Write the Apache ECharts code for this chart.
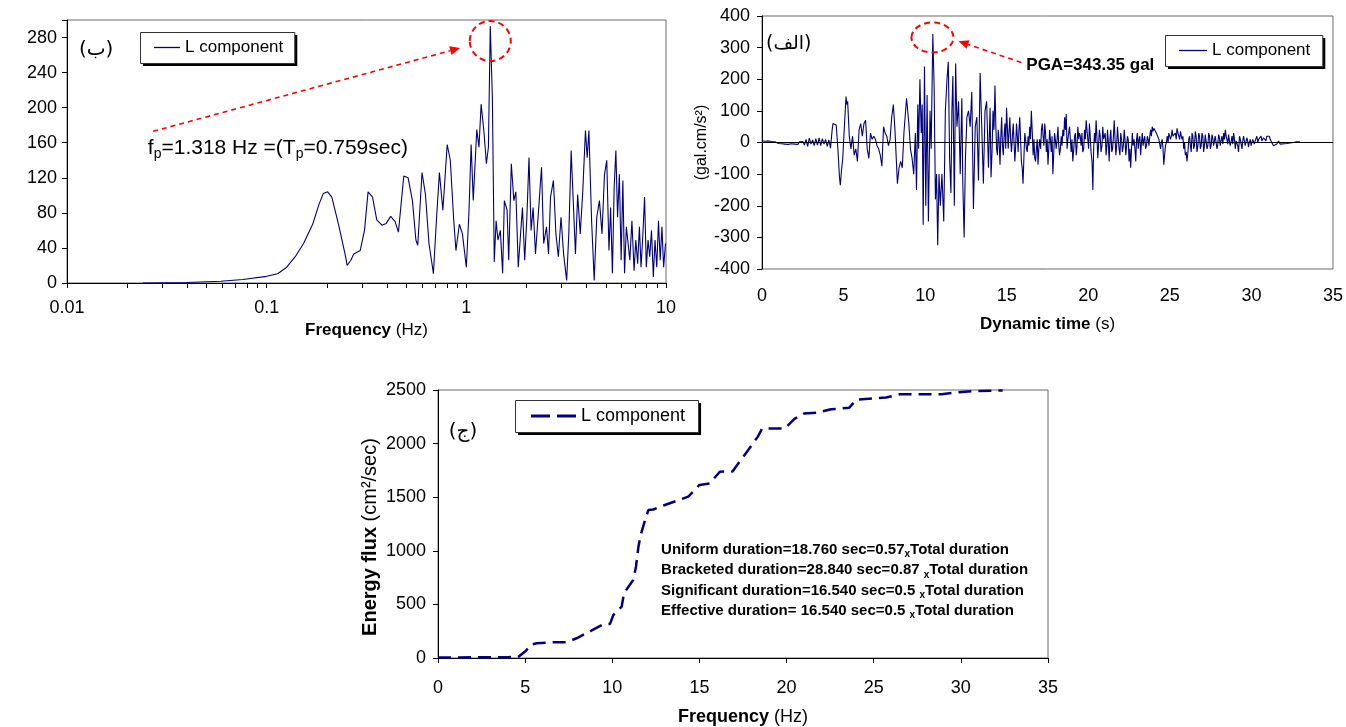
<!DOCTYPE html>
<html><head><meta charset="utf-8">
<script src="https://cdn.jsdelivr.net/npm/echarts@6/dist/echarts.min.js"></script>
<style>html,body{margin:0;padding:0;background:#fff}#c{width:1346px;height:727px}</style>
</head><body><div id="c"></div>
<script>
// ---------- DATA ----------
const spectrumPoints = [[0.024,0],[0.0396,0.5],[0.059,2],[0.076,4],[0.1,7.6],[0.1135,10.6],[0.126,18],[0.139,30],[0.153,45],[0.170,67],[0.183,90],[0.192,102],[0.202,104],[0.212,98],[0.229,67],[0.247,33],[0.253,20],[0.264,26],[0.273,33],[0.294,37],[0.309,60],[0.322,104],[0.339,98],[0.356,72],[0.378,66],[0.397,68],[0.418,76],[0.44,70],[0.457,58],[0.486,122],[0.511,120],[0.537,94],[0.559,49],[0.571,43],[0.600,126],[0.624,101],[0.650,45],[0.673,22],[0.684,10.6],[0.708,71],[0.733,126],[0.763,83],[0.802,158],[0.831,140],[0.865,71],[0.887,37],[0.923,67],[0.956,56],[1.0,18],[1.03,79],[1.057,158],[1.083,94],[1.128,175],[1.157,155],[1.186,204],[1.228,170],[1.26,136],[1.29,155],[1.318,293],[1.35,212],[1.38,24],[1.41,71],[1.44,49],[1.48,60],[1.52,11],[1.55,94],[1.60,83],[1.63,26],[1.68,136],[1.73,94],[1.77,104],[1.82,18],[1.86,49],[1.91,86],[1.96,26],[2.01,75],[2.06,143],[2.11,60],[2.16,86],[2.22,33],[2.30,83],[2.38,132],[2.44,45],[2.52,64],[2.58,33],[2.64,98],[2.73,117],[2.81,56],[2.89,30],[2.98,75],[3.07,33],[3.18,3],[3.26,56],[3.35,151],[3.43,94],[3.52,33],[3.61,101],[3.72,56],[3.83,105],[3.95,174],[4.03,143],[4.11,174],[4.24,71],[4.37,3],[4.50,75],[4.64,94],[4.78,56],[4.92,124],[5.05,140],[5.18,37],[5.28,86],[5.39,11],[5.50,109],[5.61,151],[5.72,75],[5.84,124],[5.96,26],[6.08,117],[6.20,11],[6.33,64],[6.46,45],[6.59,26],[6.75,71],[6.92,14],[7.06,49],[7.21,22],[7.36,64],[7.50,18],[7.66,56],[7.81,98],[7.97,18],[8.13,49],[8.29,30],[8.46,60],[8.64,7],[8.81,49],[8.99,18],[9.17,71],[9.35,26],[9.54,64],[9.73,18],[9.94,45]];

const accelerationPoints = [[0,5],[0.2,4],[0.4,5],[0.6,3],[0.8,2],[1.0,-3],[1.1,2],[1.2,-4],[1.3,0],[1.4,-5],[1.5,-2],[1.6,-6],[1.7,-1],[1.8,-4],[1.9,1],[2.0,-5],[2.1,0],[2.2,-6],[2.3,2],[2.4,-4],[2.5,3],[2.6,-8],[2.7,10],[2.8,-12],[2.9,14],[3.0,-5],[3.1,8],[3.2,-10],[3.3,12],[3.4,-8],[3.5,15],[3.6,-10],[3.7,12],[3.8,-5],[3.9,10],[4.0,-12],[4.1,8],[4.2,-18],
[4.3,40],[4.35,60],[4.45,58],[4.55,55],[4.65,-20],[4.75,-110],[4.8,-135],[4.87,-90],[4.95,-50],[5.05,50],[5.15,145],[5.2,120],[5.25,130],[5.35,20],[5.45,-20],[5.55,20],[5.65,-40],[5.75,-20],[5.85,-60],[5.95,40],[6.05,60],[6.15,20],[6.25,60],[6.35,70],[6.45,-20],[6.55,-50],[6.65,30],[6.75,10],[6.85,20],[6.95,10],[7.05,-10],[7.15,-20],[7.25,-40],[7.35,-75],[7.45,50],[7.55,30],[7.65,20],[7.75,-10],[7.85,10],[7.95,80],[8.05,120],[8.15,40],[8.3,-130],[8.4,-80],[8.5,-60],[8.6,-80],[8.7,30],[8.86,140],[9.0,60],[9.1,-20],[9.2,-50],[9.3,-100],[9.4,30],[9.47,-150],[9.55,120],[9.6,-20],[9.68,200],[9.76,30],[9.82,120],[9.88,-260],[9.96,240],[10.04,-200],[10.12,150],[10.2,-250],[10.3,100],[10.37,-20],[10.47,343.35],[10.55,180],[10.63,-180],[10.7,-100],[10.77,-325],[10.85,-100],[10.93,-200],[11.03,-100],[11.14,-250],[11.24,100],[11.34,200],[11.42,255],[11.5,-50],[11.58,-160],[11.64,100],[11.7,210],[11.79,-200],[11.87,250],[11.95,50],[12.05,130],[12.15,-100],[12.25,140],[12.31,-130],[12.39,-300],[12.47,-50],[12.56,80],[12.66,100],[12.76,50],[12.86,160],[12.96,-210],[13.07,50],[13.17,80],[13.27,-120],[13.37,220],[13.47,50],[13.57,-130],[13.67,100],[13.77,130],[13.88,-80],[13.98,110],[14.04,-110],[14.16,100],[14.28,180],[14.38,-20],[14.48,40],[14.59,-70],[14.69,80],[14.79,-40],[14.89,60],[14.99,110],[15.09,-20],[15.19,80],[15.29,-30],[15.4,60],[15.5,-60],[15.6,60],[15.7,-30],[15.8,80],[15.9,-60],[16.0,-130],[16.11,30],[16.21,-20],[16.31,20],[16.41,50],[16.51,100],[16.62,-40],[16.72,-50],[16.82,-20],[16.92,-70],[17.02,10],[17.13,40],[17.23,20],[17.33,60],[17.43,-30],[17.53,-70],[17.63,40],[17.73,-30],[17.83,-100],[17.93,30],[18.03,-20],[18.14,50],[18.24,-40],[18.34,20],[18.44,40],[18.55,80],[18.65,90],[18.75,10],[18.85,50],[18.95,-30],[19.05,-60],[19.16,20],[19.26,-40],[19.36,50],[19.46,30],[19.56,-10],[19.66,-30],[19.77,40],[19.87,70],[19.97,10],[20.07,60],[20.17,-30],[20.28,-150],[20.38,30],[20.48,70],[20.58,-50],[20.68,40],[20.78,-30],[20.89,50],[20.99,20],[21.09,-40],[21.18,40],[21.28,-60],[21.38,40],[21.49,-20],[21.59,70],[21.69,-40],[21.79,50],[21.89,-20],[21.99,30],[22.09,-30],[22.2,40],[22.3,-40],[22.4,20],[22.5,-60],[22.6,-80],[22.7,30],[22.81,10],[22.91,-60],[23.01,30],[23.11,10],[23.21,-40],[23.31,30],[23.41,10],[23.51,-20],[23.62,20],[23.72,-10],[23.82,40],[23.92,50],[24.02,45],[24.12,40],[24.22,30],[24.33,10],[24.43,-20],[24.53,10],[24.63,-70],[24.73,-10],[24.84,20],[24.94,30],[25.04,10],[25.14,40],[25.24,20],[25.34,30],[25.44,45],[25.55,20],[25.65,35],[25.75,10],[25.85,-20],[25.95,-40],[26.05,-60],[26.16,10],[26.26,-10],[26.36,30],[26.46,-20],[26.56,35],[26.66,-30],[26.77,30],[26.87,-20],[26.97,30],[27.07,-30],[27.17,25],[27.28,-20],[27.38,30],[27.48,-20],[27.58,25],[27.68,-10],[27.78,20],[27.89,-20],[27.99,25],[28.09,-10],[28.19,20],[28.3,30],[28.4,40],[28.5,10],[28.6,25],[28.7,-10],[28.81,20],[28.91,30],[29.01,-20],[29.11,10],[29.21,-30],[29.32,10],[29.42,-20],[29.52,20],[29.62,-10],[29.72,15],[29.82,-15],[29.93,10],[30.03,0],[30.13,15],[30.23,5],[30.33,20],[30.44,10],[30.54,15],[30.64,5],[30.74,15],[30.84,10],[30.94,20],[31.05,25],[31.15,10],[31.25,0],[31.35,-10],[31.46,-15],[31.56,-5],[31.66,5],[31.76,-5],[31.86,-2],[32.17,-3],[32.57,0],[32.77,2],[32.97,2]];

// smaller in-between wiggles read from the 14-31 s part of the record
const accelerationDetail = [[14.10,-30],[14.22,40],[14.33,60],[14.43,-40],[14.53,10],[14.64,20],[14.74,-10],[14.84,20],[14.94,-20],[15.04,50],[15.14,30],[15.24,10],[15.35,20],[15.45,0],[15.55,-10],[15.65,20],[15.75,40],[15.85,10],[15.95,-80],[16.06,-40],[16.16,10],[16.26,-30],[16.36,-10],[16.46,10],[16.57,30],[16.67,10],[16.77,-60],[16.87,10],[16.97,-20],[17.08,-20],[17.18,60],[17.28,-10],[17.38,30],[17.48,10],[17.58,-20],[17.68,10],[17.78,20],[17.88,-40],[17.98,10],[18.09,10],[18.19,-10],[18.29,-20],[18.39,-10],[18.5,20],[18.6,40],[18.7,-20],[18.8,30],[18.9,10],[19.0,10],[19.11,-20],[19.21,30],[19.31,-10],[19.41,10],[19.51,20],[19.61,30],[19.72,-20],[19.82,10],[19.92,40],[20.02,-20],[20.12,20],[20.23,-60],[20.33,-20],[20.43,0],[20.53,20],[20.63,-10],[20.73,20],[20.84,-10],[20.94,10],[21.04,30],[21.14,-10],[21.23,0],[21.33,10],[21.44,-30],[21.54,20],[21.64,10],[21.74,-10],[21.84,10],[21.94,-40],[22.04,10],[22.15,-10],[22.25,10],[22.35,-10],[22.45,10],[22.55,-20],[22.65,-20],[22.75,-10],[22.86,-20],[22.96,10],[23.06,-20],[23.16,20],[23.26,0],[23.36,-10],[23.46,20],[23.57,-10],[23.67,10],[23.77,20],[23.87,20],[23.97,35],[24.07,50],[24.17,30],[24.28,35],[24.38,-5],[24.48,0],[24.58,-20],[24.68,-40],[24.79,0],[24.89,0],[24.99,20],[25.09,20],[25.19,20],[25.29,20],[25.39,10],[25.5,30],[25.6,10],[25.7,20],[25.8,20],[25.9,0],[26.0,-30],[26.11,-30],[26.21,20],[26.31,-30],[26.41,20],[26.51,-10],[26.61,20],[26.72,-10],[26.82,20],[26.92,-10],[27.02,20],[27.12,-10],[27.23,20],[27.33,-10],[27.43,20],[27.53,-10],[27.63,15],[27.73,-5],[27.84,15],[27.94,-5],[28.04,15],[28.14,5],[28.25,-5],[28.35,10],[28.45,20],[28.55,-5],[28.65,5],[28.76,5],[28.86,-5],[28.96,10],[29.06,5],[29.16,-10],[29.27,20],[29.37,-5],[29.47,5],[29.57,5],[29.67,-5],[29.77,5],[29.87,0],[29.98,-10],[30.08,10],[30.18,-5],[30.28,10],[30.39,0],[30.49,5],[30.59,20],[30.69,5],[30.79,20],[30.89,5],[31.0,15],[31.1,20]];

const energyPoints = [[0,4],[1,5],[2,6],[3,7],[4,8],[4.6,10],[5.05,68],[5.28,121],[5.66,137],[6.4,146],[7.4,148],[7.95,184],[8.5,230],[8.8,255],[9.48,314],[9.87,318],[10.06,401],[10.54,479],[10.67,605],[11.2,728],[11.36,852],[11.5,1038],[11.63,1147],[11.88,1287],[12.07,1380],[12.35,1385],[13.02,1427],[13.7,1467],[14.36,1505],[15.0,1614],[15.6,1629],[16.17,1738],[16.9,1740],[17.3,1830],[17.8,1940],[18.35,2065],[18.6,2140],[19.9,2140],[20.45,2230],[21.0,2280],[21.8,2290],[22.55,2320],[23.6,2335],[24.0,2410],[24.9,2420],[25.7,2430],[26.5,2460],[28.9,2460],[29.9,2480],[30.7,2490],[32.4,2495]];

const logTickValues = [0.01,0.02,0.03,0.04,0.05,0.06,0.07,0.08,0.09,0.1,0.2,0.3,0.4,0.5,0.6,0.7,0.8,0.9,1,2,3,4,5,6,7,8,9,10];
const legendLabel = 'L component';
const infoLines = [
  ['Uniform duration=18.760 sec=0.57', 'Total duration'],
  ['Bracketed duration=28.840 sec=0.87 ', 'Total duration'],
  ['Significant duration=16.540 sec=0.5 ', 'Total duration'],
  ['Effective duration= 16.540 sec=0.5 ', 'Total duration']
];

// ---------- CHART ----------
const FONT = "'Liberation Sans', Arial, sans-serif";
const NAVY = '#000080';
const chart = echarts.init(document.getElementById('c'), null, {renderer: 'canvas'});
const mctx = document.createElement('canvas').getContext('2d');

const accelerationSeries = accelerationPoints.concat(accelerationDetail).sort((a, b) => a[0] - b[0]);

const txt = (size) => ({color: '#000', fontFamily: FONT, fontSize: size});
const gridBorder = {show: true, borderColor: '#6b6b6b', borderWidth: 1, backgroundColor: '#fff'};

// legend boxes: [series name, left, top, padding, icon, itemWidth, itemHeight, fontSize]
const legendSpecs = [
  ['spectrum', 140, 32, [7, 11, 7, 14], 'rect', 26, 1.3, 17],
  ['acceleration', 1165, 35, [7, 12, 7, 14], 'rect', 28, 1.3, 17],
  ['energy', 515, 400, [7, 13, 7, 16], 'path://M0,0H19V3H0Z M26,0H45V3H26Z', 45, 3, 18]
];
const legends = legendSpecs.map(s => ({
  data: [s[0]], left: s[1], top: s[2], padding: s[3], icon: s[4], itemWidth: s[5], itemHeight: s[6],
  textStyle: txt(s[7]), orient: 'horizontal', backgroundColor: 'transparent', borderWidth: 0,
  formatter: () => legendLabel, selectedMode: false, z: 6
}));

chart.setOption({
  animation: false,
  grid: [
    Object.assign({left: 67, top: 20, width: 599, height: 263}, gridBorder),
    Object.assign({left: 762, top: 16, width: 576, height: 253}, gridBorder),
    Object.assign({left: 438, top: 390, width: 610, height: 268}, gridBorder)
  ],
  legend: legends,
  xAxis: [
    {gridIndex: 0, type: 'log', logBase: 10, min: 0.01, max: 10,
     axisLine: {lineStyle: {color: '#000'}},
     axisTick: {show: true, inside: false, length: 5, lineStyle: {color: '#000'}, customValues: logTickValues},
     axisLabel: Object.assign({margin: 16, formatter: v => String(v)}, txt(18)),
     splitLine: {show: false},
     name: '{b|Frequency} (Hz)', nameLocation: 'middle', nameGap: 39,
     nameTextStyle: Object.assign({rich: {b: Object.assign({fontWeight: 'bold'}, txt(17))}}, txt(17))},
    {gridIndex: 1, type: 'value', min: 0, max: 35, interval: 5,
     axisLine: {show: false}, axisTick: {show: false},
     axisLabel: Object.assign({margin: 18}, txt(18)),
     splitLine: {show: false},
     name: '{b|Dynamic time} (s)', nameLocation: 'middle', nameGap: 47,
     nameTextStyle: Object.assign({rich: {b: Object.assign({fontWeight: 'bold'}, txt(17))}}, txt(17))},
    {gridIndex: 2, type: 'value', min: 0, max: 35, interval: 5,
     axisLine: {lineStyle: {color: '#000'}},
     axisTick: {show: true, length: 5, lineStyle: {color: '#000'}},
     axisLabel: Object.assign({margin: 21}, txt(18)),
     splitLine: {show: false},
     name: '{b|Frequency} (Hz)', nameLocation: 'middle', nameGap: 50,
     nameTextStyle: Object.assign({rich: {b: Object.assign({fontWeight: 'bold'}, txt(18))}}, txt(18))}
  ],
  yAxis: [
    {gridIndex: 0, type: 'value', min: 0, max: 300, interval: 40,
     axisLine: {show: true, lineStyle: {color: '#000'}},
     axisTick: {show: true, length: 5, lineStyle: {color: '#000'}},
     axisLabel: Object.assign({margin: 10, formatter: v => (v === 300 ? '' : String(v))}, txt(18)),
     splitLine: {show: false}},
    {gridIndex: 1, type: 'value', min: -400, max: 400, interval: 100,
     axisLine: {show: true, lineStyle: {color: '#000'}},
     axisTick: {show: true, length: 5, lineStyle: {color: '#000'}},
     axisLabel: Object.assign({margin: 12, formatter: v => String(v)}, txt(18)),
     splitLine: {show: false},
     name: '(gal.cm/s²)', nameLocation: 'middle', nameGap: 44, nameTextStyle: txt(16)},
    {gridIndex: 2, type: 'value', min: 0, max: 2500, interval: 500,
     axisLine: {show: true, lineStyle: {color: '#000'}},
     axisTick: {show: true, length: 5, lineStyle: {color: '#000'}},
     axisLabel: Object.assign({margin: 12, formatter: v => String(v)}, txt(18)),
     splitLine: {show: false},
     name: '{b|Energy flux} (cm²/sec)', nameLocation: 'middle', nameGap: 58,
     nameTextStyle: Object.assign({padding: [0, 26, 0, 0], rich: {b: Object.assign({fontWeight: 'bold'}, txt(20))}}, txt(20))}
  ],
  series: [
    {name: 'spectrum', type: 'line', xAxisIndex: 0, yAxisIndex: 0, data: spectrumPoints,
     showSymbol: false, symbol: 'none', lineStyle: {color: NAVY, width: 1.1}, itemStyle: {color: NAVY}},
    {name: 'acceleration', type: 'line', xAxisIndex: 1, yAxisIndex: 1, data: accelerationSeries,
     showSymbol: false, symbol: 'none', lineStyle: {color: NAVY, width: 1.1}, itemStyle: {color: NAVY},
     markLine: {silent: true, symbol: 'none', label: {show: false}, animation: false,
                lineStyle: {color: '#000', type: 'solid', width: 1}, data: [{yAxis: 0}]}},
    {name: 'energy', type: 'line', xAxisIndex: 2, yAxisIndex: 2, data: energyPoints,
     showSymbol: false, symbol: 'none', lineStyle: {color: NAVY, width: 2.5, type: [13, 7]}, itemStyle: {color: NAVY}}
  ]
});

// ---------- ANNOTATIONS (anchored through the axes) ----------
function px(i, x, y) { return chart.convertToPixel({xAxisIndex: i, yAxisIndex: i}, [x, y]); }
function arrow(p0, p1) {
  const dx = p1[0] - p0[0], dy = p1[1] - p0[1], L = Math.hypot(dx, dy), ux = dx / L, uy = dy / L;
  const hl = 10, hw = 4.5, bx = p1[0] - ux * hl, by = p1[1] - uy * hl;
  return [
    {type: 'line', silent: true, z: 5, shape: {x1: p0[0], y1: p0[1], x2: bx, y2: by}, style: {stroke: '#ff0000', lineWidth: 1.6, lineDash: [5, 4]}},
    {type: 'polygon', silent: true, z: 5, shape: {points: [[p1[0], p1[1]], [bx - uy * hw, by + ux * hw], [bx + uy * hw, by - ux * hw]]}, style: {fill: '#ff0000'}}
  ];
}
function ellipse(c, rx, ry) {
  return {type: 'ellipse', silent: true, z: 5, shape: {cx: c[0], cy: c[1], rx: rx, ry: ry}, style: {fill: 'none', stroke: '#ff0000', lineWidth: 2, lineDash: [6, 4]}};
}
function textRuns(x, y, runs) {
  const out = []; let cx = x;
  runs.forEach(r => {
    const font = (r.b ? 'bold ' : '') + r.s + 'px ' + FONT;
    mctx.font = font;
    const w = mctx.measureText(r.t).width;
    out.push({type: 'text', silent: true, z: 5, x: cx, y: y + (r.dy || 0),
      style: {text: r.t, font: font, fill: '#000', align: 'left', verticalAlign: 'bottom', textAlign: 'left', textVerticalAlign: 'bottom'}});
    cx += w;
  });
  return out;
}
function label(p, t, size, family, bold, align, valign) {
  return {type: 'text', silent: true, z: 5, x: p[0], y: p[1],
    style: {text: t, font: (bold ? 'bold ' : '') + size + 'px ' + family, fill: '#000',
            align: align, verticalAlign: valign, textAlign: align, textVerticalAlign: valign}};
}

const g = [];
// legend frames with the offset black shadow
legendSpecs.forEach(s => {
  mctx.font = s[7] + 'px ' + FONT;
  const tw = mctx.measureText(legendLabel).width;
  const pad = s[3];
  const w = pad[3] + s[5] + 5 + tw + pad[1];
  const h = pad[0] + s[7] + pad[2];
  g.push({type: 'rect', silent: true, z: 4, shape: {x: s[1] + 3, y: s[2] + 3, width: w, height: h}, style: {fill: '#000'}});
  g.push({type: 'rect', silent: true, z: 4.5, shape: {x: s[1] + 0.5, y: s[2] + 0.5, width: w, height: h}, style: {fill: '#fff', stroke: '#333', lineWidth: 1}});
});
// spectrum chart
g.push(ellipse(px(0, 1.318, 276), 20.5, 20));
arrow(px(0, 0.027, 173), px(0, 0.93, 268)).forEach(e => g.push(e));
const fp = px(0, 0.0254, 142);
textRuns(fp[0], fp[1], [{t: 'f', s: 21}, {t: 'p', s: 14, dy: 2.5}, {t: '=1.318 Hz =(T', s: 21}, {t: 'p', s: 14, dy: 2.5}, {t: '=0.759sec)', s: 21}]).forEach(e => g.push(e));
g.push(label(px(0, 0.014, 266), '(ب)', 20, "'DejaVu Sans'", false, 'center', 'middle'));
// acceleration chart
g.push(ellipse(px(1, 10.45, 332), 21, 15));
arrow(px(1, 15.9, 253), px(1, 12.05, 320)).forEach(e => g.push(e));
g.push(label(px(1, 16.2, 244), 'PGA=343.35 gal', 17, FONT, true, 'left', 'middle'));
g.push(label(px(1, 1.64, 310), '(الف)', 19, "'DejaVu Sans'", false, 'center', 'middle'));
// energy chart
g.push(label(px(2, 1.43, 2108), '(ج)', 20, "'DejaVu Sans'", false, 'center', 'middle'));
const ib = px(2, 12.8, 937.5);
infoLines.forEach((ln, i) => {
  textRuns(ib[0], ib[1] + i * 20.3, [{t: ln[0], s: 15, b: true}, {t: 'x', s: 10, b: true, dy: 2}, {t: ln[1], s: 15, b: true}]).forEach(e => g.push(e));
});
chart.setOption({graphic: {elements: g}});
</script>
</body></html>
